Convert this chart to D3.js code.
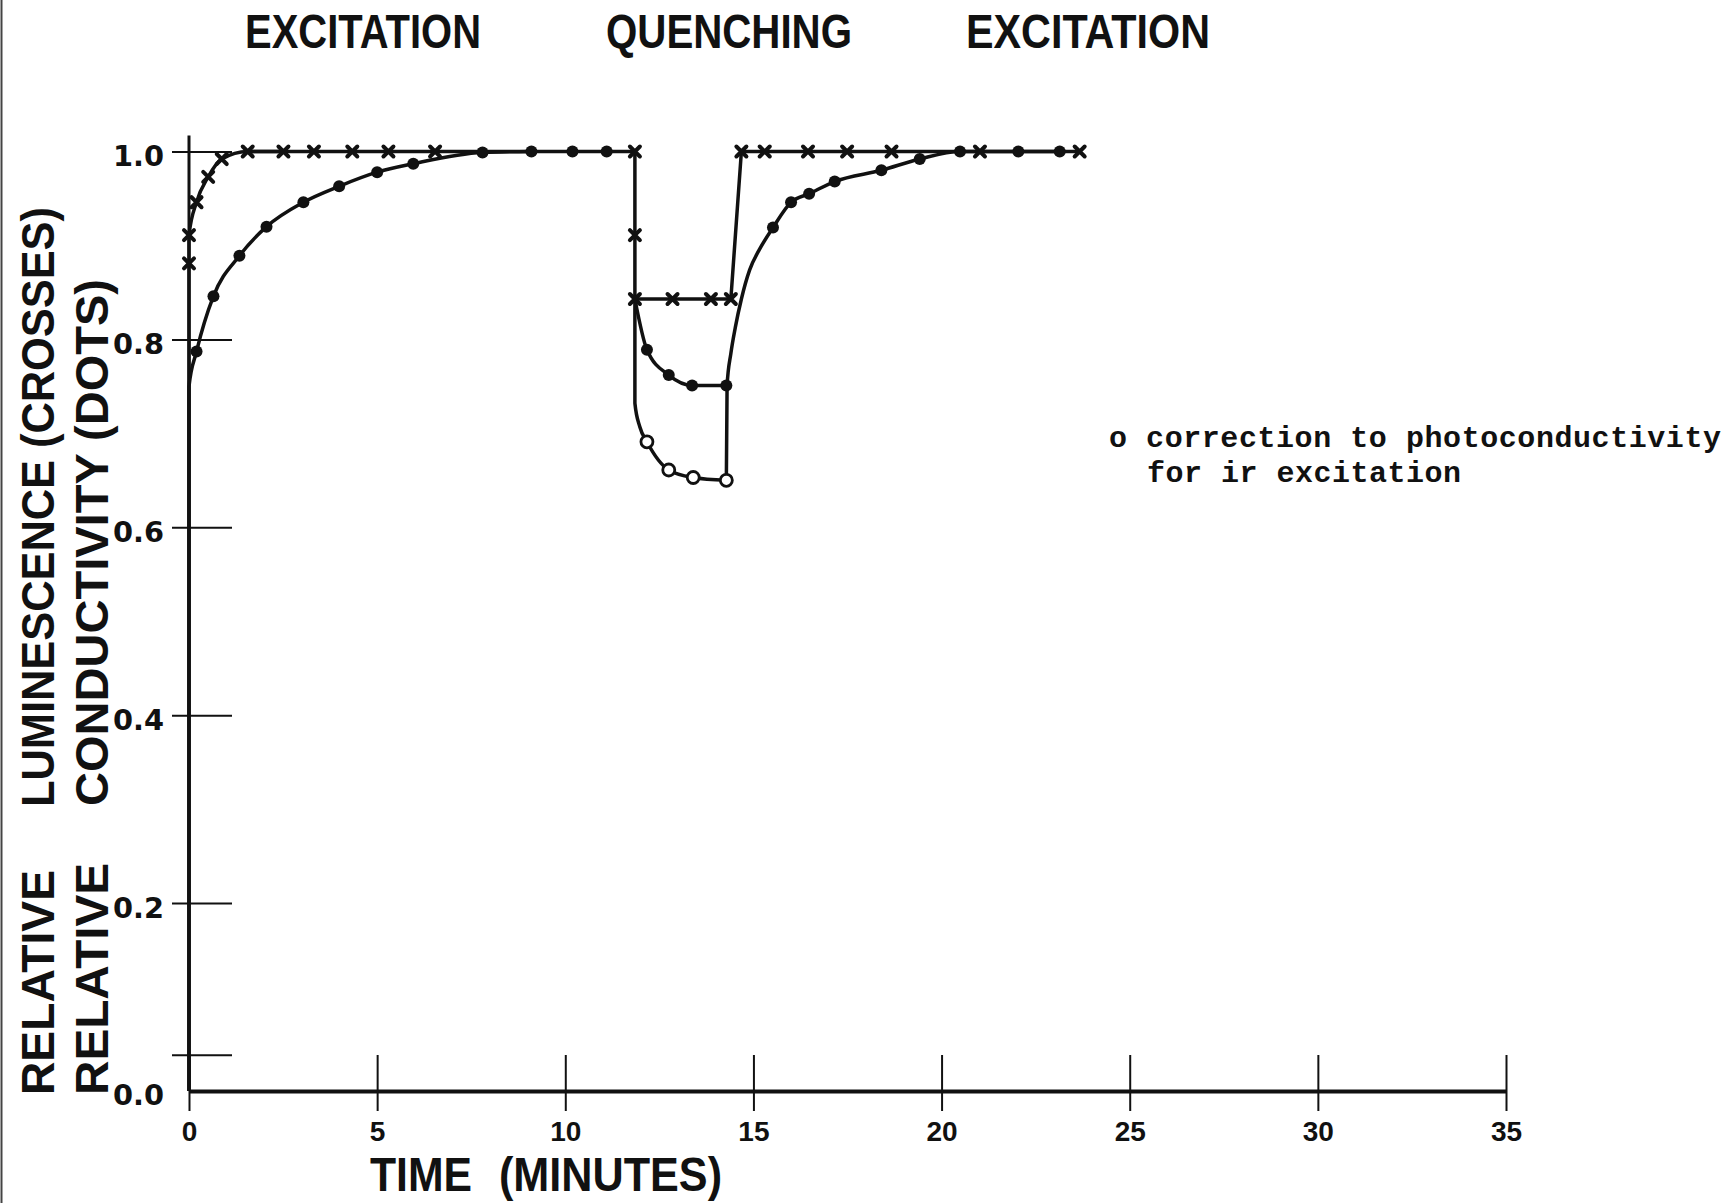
<!doctype html>
<html lang="en">
<head>
  <meta charset="utf-8">
  <title>Excitation / quenching</title>
  <script src="https://cdnjs.cloudflare.com/ajax/libs/d3/7.8.5/d3.min.js"></script>
  <style>
    body { margin: 0; background: #fff; }
  </style>
</head>
<body>
<div id="chart"></div>
<script>

// ---- values (time in minutes, relative value) ----
var xTicks = [0, 5, 10, 15, 20, 25, 30, 35];
var yTicks = [0.0, 0.2, 0.4, 0.6, 0.8, 1.0];
var strayTick = [0.038];

var phaseLabels = ["EXCITATION", "QUENCHING", "EXCITATION"];

// crosses = luminescence
var crosses = [[0,0.881],[0,0.911],[0.2,0.946],[0.51,0.973],[0.87,0.992],[1.56,1.0],
  [2.51,1.0],[3.32,1.0],[4.34,1.0],[5.3,1.0],[6.54,1.0],[11.85,1.0],
  [11.85,0.911],[11.85,0.843],[12.85,0.843],[13.87,0.843],[14.4,0.843],
  [14.68,1.0],[15.3,1.0],[16.45,1.0],[17.49,1.0],[18.67,1.0],[21.02,1.0],[23.67,1.0]];

// dots = conductivity
var dots = [[0.2,0.787],[0.65,0.846],[1.34,0.889],[2.06,0.920],[3.04,0.946],[3.99,0.963],
  [5.0,0.978],[5.96,0.987],[7.8,0.999],[9.1,1.0],[10.19,1.0],[11.1,1.0],
  [12.17,0.789],[12.75,0.762],[13.37,0.751],[14.28,0.751],
  [15.52,0.919],[16.0,0.946],[16.48,0.955],[17.16,0.968],[18.4,0.980],[19.42,0.992],
  [20.49,1.0],[22.04,1.0],[23.14,1.0]];

// open circles = corrected photoconductivity
var openCircles = [[12.17,0.691],[12.75,0.661],[13.4,0.653],[14.28,0.650]];

// drawn curves (vertices)
var lumRise = [[0,0],[0,0.881],[0,0.911],[0.2,0.946],[0.51,0.973],[0.87,0.992],[1.56,1.0],[2.51,1.0]];
var lumSteps = [[1.56,1.0],[11.85,1.0],[11.85,0.843],[14.4,0.843],[14.68,1.0],[23.67,1.0]];
var condRise = [[0,0],[0,0.75],[0.2,0.787],[0.65,0.846],[1.34,0.889],[2.06,0.920],[3.04,0.946],
  [3.99,0.963],[5.0,0.978],[5.96,0.987],[7.8,0.999],[9.1,1.0]];
var condQuench = [[11.85,0.843],[12.17,0.789],[12.75,0.762],[13.37,0.751],[14.28,0.751]];
var corrQuench = [[11.85,0.843],[11.85,0.732],[11.98,0.707],[12.17,0.691],[12.75,0.661],[13.4,0.653],[14.28,0.650]];
var condRecover = [[14.28,0.650],[14.3,0.751],[14.4,0.785],[14.52,0.813],[14.68,0.843],[14.9,0.874],
  [15.15,0.895],[15.52,0.919],[16.0,0.946],[16.48,0.955],[17.16,0.968],[18.4,0.980],[19.42,0.992],
  [20.49,1.0],[23.14,1.0]];

var ink = "#111";
var W = 1733, H = 1203;

var svg = d3.select("#chart").append("svg")
  .attr("width", W).attr("height", H)
  .style("display", "block");

var x = d3.scaleLinear().domain([0, 35]).range([189, 1506]);
var y = d3.scaleLinear().domain([0, 1]).range([1091, 151.5]);

// scan border on the left
svg.append("line").attr("x1", 1.5).attr("x2", 1.5).attr("y1", 0).attr("y2", H)
  .attr("stroke", "#444").attr("stroke-width", 2);

// X axis
var xAxis = svg.append("g")
  .attr("transform", "translate(0," + y(0) + ")")
  .call(d3.axisBottom(x).tickValues(xTicks).tickSizeOuter(0));
xAxis.select(".domain").attr("stroke", ink).attr("stroke-width", 4);
xAxis.selectAll(".tick line").attr("y1", -36).attr("y2", 20).attr("stroke", ink).attr("stroke-width", 2);
xAxis.selectAll(".tick text")
  .attr("y", 50).attr("dy", 0)
  .attr("fill", ink)
  .style("font-family", "'Liberation Sans', Arial, sans-serif")
  .style("font-weight", "bold")
  .style("font-size", "28px");

// Y axis
var yAxis = svg.append("g")
  .attr("transform", "translate(" + x(0) + ",0)")
  .call(d3.axisLeft(y).tickValues(yTicks).tickFormat(d3.format(".1f")).tickSizeOuter(0));
yAxis.select(".domain").remove();
yAxis.selectAll(".tick line").attr("x1", -17).attr("x2", 43).attr("stroke", ink).attr("stroke-width", 2)
  .filter(function(d) { return d === 0; }).remove();
yAxis.selectAll(".tick text")
  .attr("x", -25).attr("dy", "0.48em")
  .attr("fill", ink)
  .attr("textLength", 51).attr("lengthAdjust", "spacingAndGlyphs")
  .style("font-family", "'DejaVu Sans', sans-serif")
  .style("font-weight", "bold")
  .style("font-size", "29px");
yAxis.append("line")
  .attr("x1", 0).attr("x2", 0).attr("y1", y(0)).attr("y2", y(1.017))
  .attr("stroke", ink).attr("stroke-width", 3);
yAxis.selectAll(".stray").data(strayTick).enter().append("line")
  .attr("x1", -17).attr("x2", 43)
  .attr("y1", function(d) { return y(d); }).attr("y2", function(d) { return y(d); })
  .attr("stroke", ink).attr("stroke-width", 2);

// curves
var smooth = d3.line().x(function(d) { return x(d[0]); }).y(function(d) { return y(d[1]); })
  .curve(d3.curveMonotoneX);
var straight = d3.line().x(function(d) { return x(d[0]); }).y(function(d) { return y(d[1]); });

[lumRise, condRise, condQuench, corrQuench, condRecover].forEach(function(pts) {
  svg.append("path").attr("d", smooth(pts))
    .attr("fill", "none").attr("stroke", ink).attr("stroke-width", 3.5)
    .attr("stroke-linejoin", "round");
});
svg.append("path").attr("d", straight(lumSteps))
  .attr("fill", "none").attr("stroke", ink).attr("stroke-width", 3.5)
  .attr("stroke-linejoin", "round");

// markers
svg.selectAll(".dot").data(dots).enter().append("circle")
  .attr("cx", function(d) { return x(d[0]); })
  .attr("cy", function(d) { return y(d[1]); })
  .attr("r", 6).attr("fill", ink);

svg.selectAll(".open").data(openCircles).enter().append("circle")
  .attr("cx", function(d) { return x(d[0]); })
  .attr("cy", function(d) { return y(d[1]); })
  .attr("r", 6).attr("fill", "#fff").attr("stroke", ink).attr("stroke-width", 2.8);

svg.selectAll(".cross").data(crosses).enter().append("path")
  .attr("d", function(d) {
    var cx = x(d[0]), cy = y(d[1]), s = 5;
    return "M" + (cx - s) + "," + (cy - s) + "L" + (cx + s) + "," + (cy + s) +
           "M" + (cx + s) + "," + (cy - s) + "L" + (cx - s) + "," + (cy + s);
  })
  .attr("stroke", ink).attr("stroke-width", 4).attr("stroke-linecap", "round");

// phase labels across the top
var phaseX = [245, 606, 966];
var phaseW = [236, 246, 244];
svg.selectAll(".phase").data(phaseLabels).enter().append("text")
  .attr("x", function(d, i) { return phaseX[i]; })
  .attr("y", 48)
  .attr("textLength", function(d, i) { return phaseW[i]; })
  .attr("lengthAdjust", "spacingAndGlyphs")
  .attr("fill", ink)
  .style("font-family", "'Liberation Sans', Arial, sans-serif")
  .style("font-weight", "bold")
  .style("font-size", "48px")
  .text(function(d) { return d; });

// x title
var titleFont = function(sel, size) {
  sel.attr("fill", ink)
    .attr("lengthAdjust", "spacingAndGlyphs")
    .style("font-family", "'Liberation Sans', Arial, sans-serif")
    .style("font-weight", "bold")
    .style("font-size", size + "px");
};
svg.append("text").attr("x", 370).attr("y", 1191).attr("textLength", 102).text("TIME").call(titleFont, 48);
svg.append("text").attr("x", 499).attr("y", 1191).attr("textLength", 223).text("(MINUTES)").call(titleFont, 48);

// y titles (rotated)
function yTitle(txt, bx, by, len) {
  svg.append("text")
    .attr("transform", "translate(" + bx + "," + by + ") rotate(-90)")
    .attr("textLength", len)
    .text(txt).call(titleFont, 47);
}
yTitle("RELATIVE", 54, 1095, 225);
yTitle("LUMINESCENCE (CROSSES)", 54, 807, 600);
yTitle("RELATIVE", 108, 1095, 232);
yTitle("CONDUCTIVITY (DOTS)", 108, 806, 527);

// note on the right
var note = ["o correction to photoconductivity", "for ir excitation"];
var noteX = [1109, 1147], noteY = [447, 482], noteW = [612, 314];
svg.selectAll(".note").data(note).enter().append("text")
  .attr("x", function(d, i) { return noteX[i]; })
  .attr("y", function(d, i) { return noteY[i]; })
  .attr("textLength", function(d, i) { return noteW[i]; })
  .attr("lengthAdjust", "spacing")
  .attr("fill", ink)
  .style("font-family", "'Liberation Mono', 'DejaVu Sans Mono', monospace")
  .style("font-weight", "bold")
  .style("font-size", "30px")
  .text(function(d) { return d; });

</script>
</body>
</html>
